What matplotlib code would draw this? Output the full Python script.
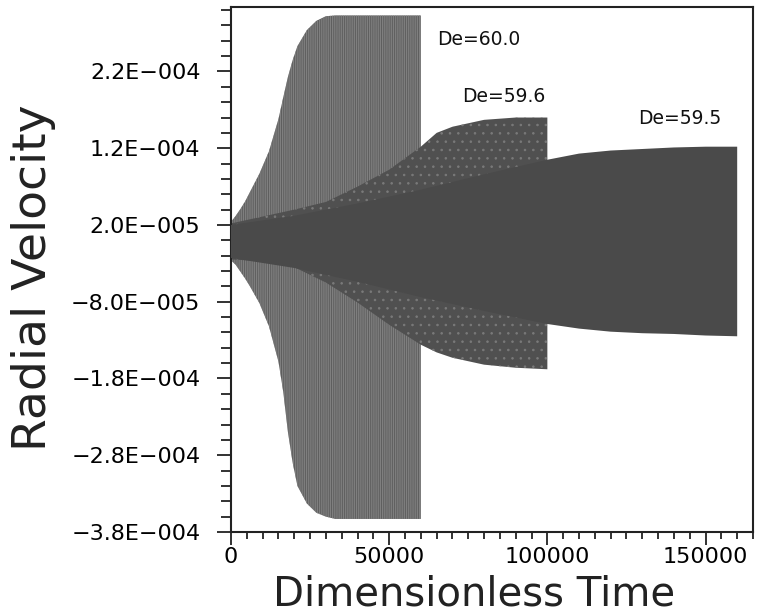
import matplotlib
matplotlib.use("Agg")
import matplotlib.pyplot as plt
from matplotlib.ticker import FixedLocator, MultipleLocator

plt.rcParams['font.family'] = ['DejaVu Sans']
plt.rcParams['hatch.linewidth'] = 0.6

# ---- data (envelopes of the oscillating radial velocity) ----
t_60 = [0, 1500, 3000, 4500, 6000, 9000, 12000, 15000, 16500, 18000, 19500, 21000,
        24000, 27000, 30000, 33000, 60000]
up_60 = [2.4e-5, 3.2e-5, 4.1e-5, 5.1e-5, 6.3e-5, 8.7e-5, 1.16e-4, 1.58e-4, 1.86e-4,
         2.13e-4, 2.35e-4, 2.53e-4, 2.74e-4, 2.86e-4, 2.92e-4, 2.93e-4, 2.93e-4]
lo_60 = [-2.6e-5, -3.2e-5, -4.1e-5, -5.0e-5, -6.0e-5, -8.2e-5, -1.12e-4, -1.58e-4,
         -1.97e-4, -2.5e-4, -2.9e-4, -3.2e-4, -3.43e-4, -3.55e-4, -3.6e-4,
         -3.63e-4, -3.63e-4]

t_596 = [0, 10000, 20000, 30000, 40000, 50000, 60000, 65000, 70000, 80000, 90000, 100000]
up_596 = [2.2e-5, 3.1e-5, 4.0e-5, 5.0e-5, 7.0e-5, 9.2e-5, 1.22e-4, 1.40e-4, 1.48e-4,
          1.57e-4, 1.60e-4, 1.60e-4]
lo_596 = [-2.5e-5, -2.7e-5, -3.5e-5, -5.5e-5, -8.1e-5, -1.10e-4, -1.36e-4, -1.46e-4,
          -1.53e-4, -1.62e-4, -1.66e-4, -1.68e-4]

t_595 = [0, 20000, 40000, 60000, 80000, 100000, 110000, 120000, 130000, 140000,
         150000, 160000]
up_595 = [2.0e-5, 3.2e-5, 4.8e-5, 6.6e-5, 8.6e-5, 1.05e-4, 1.13e-4, 1.17e-4, 1.19e-4,
          1.21e-4, 1.22e-4, 1.22e-4]
lo_595 = [-2.3e-5, -3.6e-5, -5.4e-5, -7.4e-5, -9.2e-5, -1.09e-4, -1.15e-4, -1.19e-4,
          -1.21e-4, -1.22e-4, -1.24e-4, -1.25e-4]

series_labels = ["De=60.0", "De=59.6", "De=59.5"]
label_pos_t = [65200, 73100, 128800]
label_pos_v = [2.62e-4, 1.875e-4, 1.59e-4]

ytick_vals = [-3.8e-4, -2.8e-4, -1.8e-4, -0.8e-4, 0.2e-4, 1.2e-4, 2.2e-4]
ytick_labels = ["\u22123.8E\u2212004", "\u22122.8E\u2212004", "\u22121.8E\u2212004",
                "\u22128.0E\u2212005", "2.0E\u2212005", "1.2E\u2212004", "2.2E\u2212004"]
xtick_vals = [0, 50000, 100000, 150000]
xtick_labels = ["0", "50000", "100000", "150000"]

# ---- figure ----
W, H = 758, 615
fig = plt.figure(figsize=(W / 100, H / 100), dpi=100)
ax = fig.add_axes([231 / W, 1 - 532 / H, (753 - 231) / W, (532 - 7) / H])

ax.fill_between(t_60, lo_60, up_60, facecolor="#5f5f5f", edgecolor="#868686",
                hatch="|" * 9, linewidth=0, zorder=1)
ax.fill_between(t_596, lo_596, up_596, facecolor="#505050", edgecolor="#7a7a7a",
                hatch="..", linewidth=0, zorder=2)
ax.fill_between(t_595, lo_595, up_595, facecolor="#4a4a4a", linewidth=0, zorder=3)

for lab, tx, vy in zip(series_labels, label_pos_t, label_pos_v):
    ax.text(tx, vy, lab, fontsize=13.5, ha="left", va="center", color="#111111")

ax.set_xlim(0, 165000)
ax.set_ylim(-3.8e-4, 3.04e-4)

ax.xaxis.set_major_locator(FixedLocator(xtick_vals))
ax.set_xticklabels(xtick_labels)
ax.xaxis.set_minor_locator(MultipleLocator(5000))
ax.yaxis.set_major_locator(FixedLocator(ytick_vals))
ax.set_yticklabels(ytick_labels)
ax.yaxis.set_minor_locator(MultipleLocator(2e-5))

ax.tick_params(axis="both", which="both", direction="out", width=1.3, color="#222222",
               top=False, right=False)
ax.tick_params(axis="x", which="major", length=9, labelsize=16, pad=2)
ax.tick_params(axis="x", which="minor", length=5)
ax.tick_params(axis="y", which="major", length=10, labelsize=16, pad=12)
ax.tick_params(axis="y", which="minor", length=7)
for s in ax.spines.values():
    s.set_linewidth(1.5)
    s.set_color("#222222")

ax.set_xlabel("Dimensionless Time", fontsize=29, va="center", color="#222222")
ax.xaxis.set_label_coords((474 - 231) / 522, (532 - 595) / 525)
ax.set_ylabel("Radial Velocity", fontsize=34, va="center", color="#222222")
ax.yaxis.set_label_coords((33 - 231) / 522, (532 - 278) / 525)

fig.savefig("out.png", dpi=100)
